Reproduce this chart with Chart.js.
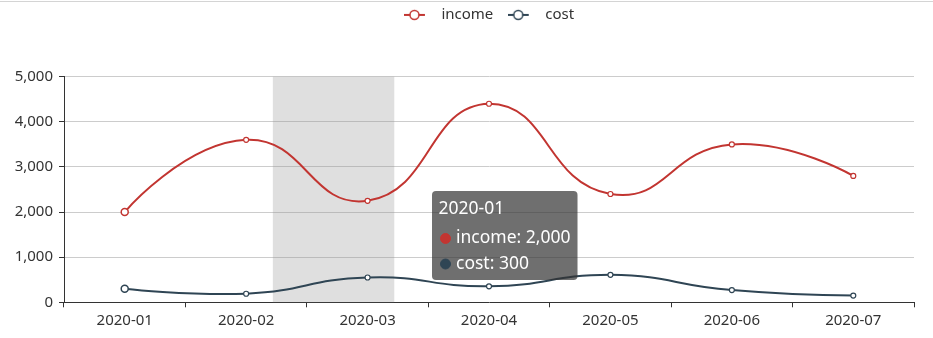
<!DOCTYPE html>
<html>
<head>
<meta charset="utf-8">
<title>income / cost</title>
<script src="https://cdn.jsdelivr.net/npm/chart.js@4.4.1/dist/chart.umd.min.js"></script>
<style>
    html, body { margin: 0; padding: 0; background: #fff; }
    #wrap { width: 933px; height: 336px; margin-top: 1px; border-top: 1px solid #d4d4d4; position: relative; }
</style>
</head>
<body>
<div id="wrap"><canvas id="lineChart"></canvas></div>
<script>
const months = ['2020-01', '2020-02', '2020-03', '2020-04', '2020-05', '2020-06', '2020-07'];
const incomeValues = [2000, 3600, 2250, 4400, 2400, 3500, 2800];
const costValues = [300, 190, 550, 355, 610, 270, 150];
const yTicks = [0, 1000, 2000, 3000, 4000, 5000];
const seriesNames = ['income', 'cost'];
const seriesColors = ['#c23531', '#2f4554'];

// the hovered month shown in the tooltip, and where the grey axis shadow sits (category index)
const hoverIndex = 0;
const shadowStart = 1.22;
const tooltipAnchor = { x: 436, y: 189 };

Chart.defaults.font.family = "'Noto Sans', sans-serif";
Chart.defaults.font.size = 15;
Chart.defaults.color = '#333';

function legendIcon(color) {
    const c = document.createElement('canvas');
    c.width = 30;
    c.height = 14;
    const g = c.getContext('2d');
    g.strokeStyle = color;
    g.lineWidth = 2;
    g.beginPath();
    g.moveTo(0, 7);
    g.lineTo(21, 7);
    g.stroke();
    g.beginPath();
    g.arc(10.5, 7, 4.5, 0, Math.PI * 2);
    g.fillStyle = '#fff';
    g.fill();
    g.lineWidth = 1.5;
    g.stroke();
    return c;
}

const legendIcons = seriesColors.map(legendIcon);

// reserve the space above the grid, and lift the legend row to the top edge
const legendSpace = {
    id: 'legendSpace',
    beforeInit(chart) {
        const fit = chart.legend.fit;
        chart.legend.fit = function() {
            fit.call(this);
            this.height = 74.7;
        };
    },
    afterLayout(chart) {
        chart.legend.top = -9;
    }
};

// grey axis-pointer shadow, one category wide
const axisShadow = {
    id: 'axisShadow',
    beforeDatasetsDraw(chart) {
        const x = chart.scales.x;
        const area = chart.chartArea;
        const x1 = x.getPixelForValue(shadowStart);
        const x2 = x.getPixelForValue(shadowStart + 1);
        const ctx = chart.ctx;
        ctx.save();
        ctx.fillStyle = 'rgba(150,150,150,0.3)';
        ctx.fillRect(x1, area.top, x2 - x1, area.bottom - area.top);
        ctx.restore();
    }
};

// echarts-like smoothing: no handle at the end points, handles kept inside the points' box
const endSmoothing = {
    id: 'endSmoothing',
    beforeDatasetsDraw(chart) {
        chart.data.datasets.forEach((ds, i) => {
            const meta = chart.getDatasetMeta(i);
            const line = meta.dataset;
            const pts = meta.data;
            if (!line || pts.length < 2) return;
            line._pointsUpdated = false;
            line.updateControlPoints(chart.chartArea, 'x');
            const xs = pts.map(p => p.x);
            const ys = pts.map(p => p.y);
            const minX = Math.min(...xs), maxX = Math.max(...xs);
            const minY = Math.min(...ys), maxY = Math.max(...ys);
            const clamp = (v, a, b) => Math.max(a, Math.min(b, v));
            pts.forEach(p => {
                p.cp1x = clamp(p.cp1x, minX, maxX);
                p.cp2x = clamp(p.cp2x, minX, maxX);
                p.cp1y = clamp(p.cp1y, minY, maxY);
                p.cp2y = clamp(p.cp2y, minY, maxY);
            });
            const first = pts[0];
            const last = pts[pts.length - 1];
            first.cp2x = first.x;
            first.cp2y = first.y;
            last.cp1x = last.x;
            last.cp1y = last.y;
            line._path = undefined;
        });
    }
};

Chart.Tooltip.positioners.pinned = function() {
    return { x: tooltipAnchor.x, y: tooltipAnchor.y };
};

function pointSizes(big, small) {
    return months.map((m, i) => i === hoverIndex ? big : small);
}

function makeSeries(i, values) {
    return {
        label: seriesNames[i],
        data: values,
        borderColor: seriesColors[i],
        backgroundColor: seriesColors[i],
        borderWidth: 2,
        tension: 0.5,
        fill: false,
        pointStyle: 'circle',
        pointRadius: pointSizes(3.5, 2.5),
        pointBorderWidth: pointSizes(1.5, 1.2),
        pointBackgroundColor: '#fff',
        pointBorderColor: seriesColors[i]
    };
}

const chart = new Chart(document.getElementById('lineChart'), {
    type: 'line',
    data: {
        labels: months,
        datasets: [makeSeries(0, incomeValues), makeSeries(1, costValues)]
    },
    options: {
        responsive: true,
        maintainAspectRatio: false,
        animation: false,
        events: [],
        layout: { padding: { left: 0, right: 19, top: 0, bottom: 0 } },
        scales: {
            x: {
                type: 'category',
                offset: true,
                grid: { display: true, offset: true, drawOnChartArea: false, tickLength: 5, tickColor: '#333' },
                border: { display: true, color: '#333', width: 1 },
                ticks: { color: '#333', padding: 4, maxRotation: 0, autoSkip: false },
                afterFit: s => { s.height = 35.7; }
            },
            y: {
                min: yTicks[0],
                max: yTicks[yTicks.length - 1],
                afterBuildTicks: s => { s.ticks = yTicks.map(v => ({ value: v })); },
                ticks: { color: '#333', padding: 6 },
                grid: {
                    color: ctx => (ctx.tick && ctx.tick.value === 0) ? 'rgba(0,0,0,0)' : '#ccc',
                    tickColor: '#333',
                    tickLength: 5
                },
                border: { display: true, color: '#333', width: 1 },
                afterFit: s => { s.width = 64; }
            }
        },
        plugins: {
            legend: {
                position: 'top',
                align: 'center',
                fullSize: false,
                labels: {
                    usePointStyle: true,
                    pointStyleWidth: 30,
                    padding: 14.4,
                    color: '#333',
                    generateLabels(chart) {
                        const items = Chart.defaults.plugins.legend.labels.generateLabels(chart);
                        items.forEach(it => { it.pointStyle = legendIcons[it.datasetIndex]; });
                        return items;
                    }
                }
            },
            tooltip: {
                enabled: true,
                mode: 'index',
                position: 'pinned',
                xAlign: 'left',
                yAlign: 'top',
                caretSize: 0,
                caretPadding: 0,
                backgroundColor: 'rgba(50,50,50,0.7)',
                cornerRadius: 4,
                padding: { top: 8, bottom: 5.5, left: 6.5, right: 7 },
                titleFont: { size: 17.5, weight: 'normal' },
                bodyFont: { size: 17.5 },
                titleColor: '#fff',
                bodyColor: '#fff',
                titleMarginBottom: 8,
                bodySpacing: 4.5,
                usePointStyle: true,
                boxWidth: 14,
                boxHeight: 10,
                boxPadding: 1.5,
                multiKeyBackground: 'rgba(0,0,0,0)',
                animation: false,
                callbacks: {
                    labelColor: ctx => ({
                        borderColor: seriesColors[ctx.datasetIndex],
                        backgroundColor: seriesColors[ctx.datasetIndex],
                        borderWidth: 0
                    }),
                    labelPointStyle: () => ({ pointStyle: 'circle', rotation: 0 })
                }
            }
        }
    },
    plugins: [legendSpace, axisShadow, endSmoothing]
});

chart.tooltip.setActiveElements(
    seriesNames.map((n, i) => ({ datasetIndex: i, index: hoverIndex })),
    { x: 0, y: 0 }
);
chart.update();
</script>
</body>
</html>
